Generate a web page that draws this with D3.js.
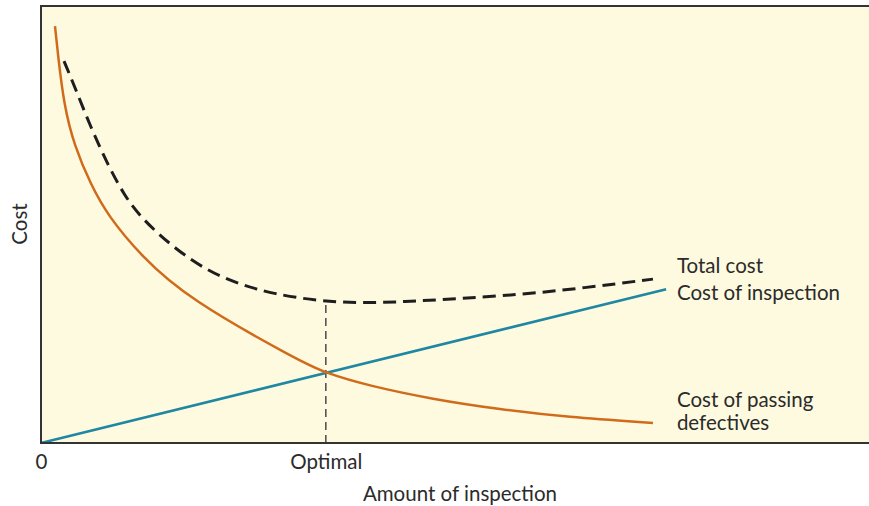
<!DOCTYPE html>
<html><head><meta charset="utf-8">
<script src="https://cdn.jsdelivr.net/npm/d3@7"></script>
<style>body{margin:0;background:#fff}svg{display:block}text{font-family:Lato,"Open Sans",sans-serif;fill:#2b2b2b}</style>
</head><body><svg id="c" width="869" height="506"></svg>
<script>
// Data (x: amount of inspection 0-100, y: cost 0-100)
const defectiveX = [1.69,2.05,2.78,3.99,6.04,8.09,12.08,17.75,31.28,34.42,39.37,47.34,55.43,63.53,73.91];
const defectiveY = [95.4,88.8,77.3,68.2,59.0,52.0,42.8,33.0,18.7,16.0,13.2,10.0,7.7,5.9,4.6];
const totalX = [2.78,3.99,6.04,8.09,10.02,12.08,16.06,20.17,24.15,28.14,33.45,38.53,43.36,47.34,55.43,63.53,73.91];
const totalY = [87.4,81.9,72.1,63.6,56.8,51.5,44.6,39.3,36.2,34.1,32.5,32.0,32.3,32.7,33.6,35.0,37.5];
const inspectionX = [0,75.5];
const inspectionY = [0,35.2];
const optimalX = 34.4;
const optimalY = 32.4;
const tickValues = [0, optimalX];
const tickLabels = ["0","Optimal"];
const labels = [
  {text:"Total cost", x:76.8, y:38.9},
  {text:"Cost of inspection", x:76.8, y:32.7},
  {text:"Cost of passing", x:76.8, y:8.2},
  {text:"defectives", x:76.8, y:2.95}
];

const svg = d3.select("#c");
const L=41, T=6, R=869, B=443;
const x = d3.scaleLinear().domain([0,100]).range([L,R]);
const y = d3.scaleLinear().domain([0,100]).range([B,T]);

svg.append("rect").attr("x",L).attr("y",T).attr("width",R-L).attr("height",B-T).attr("fill","#fefadf");

const zip=(a,b)=>a.map((v,i)=>[v,b[i]]);
const smooth = d3.line().x(d=>x(d[0])).y(d=>y(d[1])).curve(d3.curveBasis);
const straight = d3.line().x(d=>x(d[0])).y(d=>y(d[1]));

// optimal guide
svg.append("line").attr("x1",x(optimalX)).attr("x2",x(optimalX)).attr("y1",y(0)).attr("y2",y(optimalY))
  .attr("stroke","#4a4a4a").attr("stroke-width",1.5).attr("stroke-dasharray","8,5");

svg.append("path").attr("d",straight(zip(inspectionX,inspectionY))).attr("fill","none").attr("stroke","#1f87a3").attr("stroke-width",2.5);
svg.append("path").attr("d",smooth(zip(defectiveX,defectiveY))).attr("fill","none").attr("stroke","#d06b1c").attr("stroke-width",2.5);
svg.append("path").attr("d",smooth(zip(totalX,totalY))).attr("fill","none").attr("stroke","#1e1e1e").attr("stroke-width",3).attr("stroke-dasharray","13,7");

// frame
svg.append("path").attr("d",`M${R},${T}H${L}V${B}H${R}`).attr("fill","none").attr("stroke","#333").attr("stroke-width",2);

// x axis ticks
const xAxis = d3.axisBottom(x).tickValues(tickValues).tickFormat((d,i)=>tickLabels[i]).tickSize(0).tickPadding(11);
const ga = svg.append("g").attr("transform",`translate(0,${B})`).call(xAxis);
ga.select(".domain").remove();
ga.selectAll("text").attr("font-size",20.5).style("font-family","Lato,'Open Sans',sans-serif").attr("fill","#2b2b2b");

svg.append("text").attr("x",460).attr("y",501).attr("text-anchor","middle").attr("font-size",20.5).text("Amount of inspection");
svg.append("text").attr("transform","translate(27,224) rotate(-90)").attr("text-anchor","middle").attr("font-size",20.5).text("Cost");

svg.selectAll(".lbl").data(labels).enter().append("text").attr("class","lbl")
  .attr("x",d=>x(d.x)).attr("y",d=>y(d.y)).attr("font-size",20.5).text(d=>d.text);
</script></body></html>
